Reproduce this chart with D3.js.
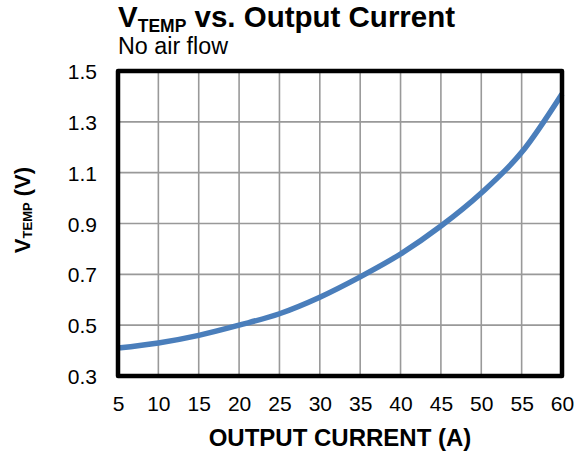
<!DOCTYPE html>
<html>
<head>
<meta charset="utf-8">
<script src="https://cdn.jsdelivr.net/npm/d3@7"></script>
<style>
  html, body { margin: 0; padding: 0; background: #fff; }
  svg { display: block; font-family: Arial, "Liberation Sans", sans-serif; }
</style>
</head>
<body>
<svg id="chart" width="586" height="454"></svg>
<script>
const currents = [5, 10, 15, 20, 25, 30, 35, 40, 45, 50, 55, 60];
const vtemp    = [0.41, 0.43, 0.46, 0.50, 0.545, 0.61, 0.69, 0.78, 0.89, 1.02, 1.18, 1.41];
const xTicks = [5, 10, 15, 20, 25, 30, 35, 40, 45, 50, 55, 60];
const yTicks = [0.3, 0.5, 0.7, 0.9, 1.1, 1.3, 1.5];

const W = 586, H = 454;
const m = { left: 118, right: 24, top: 71, bottom: 78 };
const svg = d3.select("#chart");

const x = d3.scaleLinear().domain([5, 60]).range([m.left, W - m.right]);
const y = d3.scaleLinear().domain([0.3, 1.5]).range([H - m.bottom, m.top]);

// gridlines
const grid = svg.append("g");
grid.selectAll("line.v").data(xTicks.slice(1, -1)).join("line")
  .attr("x1", d => x(d)).attr("x2", d => x(d))
  .attr("y1", y(1.5)).attr("y2", y(0.3))
  .attr("stroke", "#999").attr("stroke-width", 1.6);
grid.selectAll("line.h").data(yTicks.slice(1, -1)).join("line")
  .attr("y1", d => y(d)).attr("y2", d => y(d))
  .attr("x1", x(5)).attr("x2", x(60))
  .attr("stroke", "#999").attr("stroke-width", 1.6);

// data line
const line = d3.line().x((d, i) => x(currents[i])).y(d => y(d)).curve(d3.curveMonotoneX);
svg.append("path").datum(vtemp)
  .attr("d", line).attr("fill", "none")
  .attr("stroke", "#4a7ebb").attr("stroke-width", 5.5)
  .attr("stroke-linecap", "butt");

// frame
svg.append("rect")
  .attr("x", x(5)).attr("y", y(1.5))
  .attr("width", x(60) - x(5)).attr("height", y(0.3) - y(1.5))
  .attr("fill", "none").attr("stroke", "#000").attr("stroke-width", 4.5)
  .attr("stroke-linejoin", "round");

// axes (labels only)
const xAxis = d3.axisBottom(x).tickValues(xTicks).tickSize(0).tickPadding(0).tickFormat(d3.format("d"));
const gx = svg.append("g").attr("transform", `translate(0,${y(0.3)})`).call(xAxis);
gx.select(".domain").remove();
gx.selectAll("text").attr("font-size", 21).attr("fill", "#000")
  .attr("font-family", "Arial, 'Liberation Sans', sans-serif")
  .attr("dy", null).attr("y", 35);

const yAxis = d3.axisLeft(y).tickValues(yTicks).tickSize(0).tickPadding(0).tickFormat(d3.format(".1f"));
const gy = svg.append("g").attr("transform", `translate(97,0)`).call(yAxis);
gy.select(".domain").remove();
gy.selectAll("text").attr("font-size", 21).attr("fill", "#000")
  .attr("font-family", "Arial, 'Liberation Sans', sans-serif")
  .attr("x", 0).attr("dy", "0.36em");

// title
const t = svg.append("text").attr("x", 118).attr("y", 27)
  .attr("font-size", 29.5).attr("font-weight", "bold").attr("fill", "#000");
t.append("tspan").text("V");
t.append("tspan").attr("font-size", 17.5).attr("dy", 5).text("TEMP");
t.append("tspan").attr("dy", -5).text(" vs. Output Current");

svg.append("text").attr("x", 118).attr("y", 54)
  .attr("font-size", 23.3).attr("fill", "#000").text("No air flow");

// x axis title
svg.append("text").attr("x", (x(5) + x(60)) / 2).attr("y", 446)
  .attr("text-anchor", "middle").attr("font-size", 24).attr("font-weight", "bold")
  .attr("fill", "#000").text("OUTPUT CURRENT (A)");

// y axis title
const yt = svg.append("text").attr("transform", "translate(30,210) rotate(-90)")
  .attr("text-anchor", "middle").attr("font-size", 22).attr("font-weight", "bold").attr("fill", "#000");
yt.append("tspan").text("V");
yt.append("tspan").attr("font-size", 13).attr("dy", 2).text("TEMP");
yt.append("tspan").attr("dy", -2).text(" (V)");
</script>
</body>
</html>
